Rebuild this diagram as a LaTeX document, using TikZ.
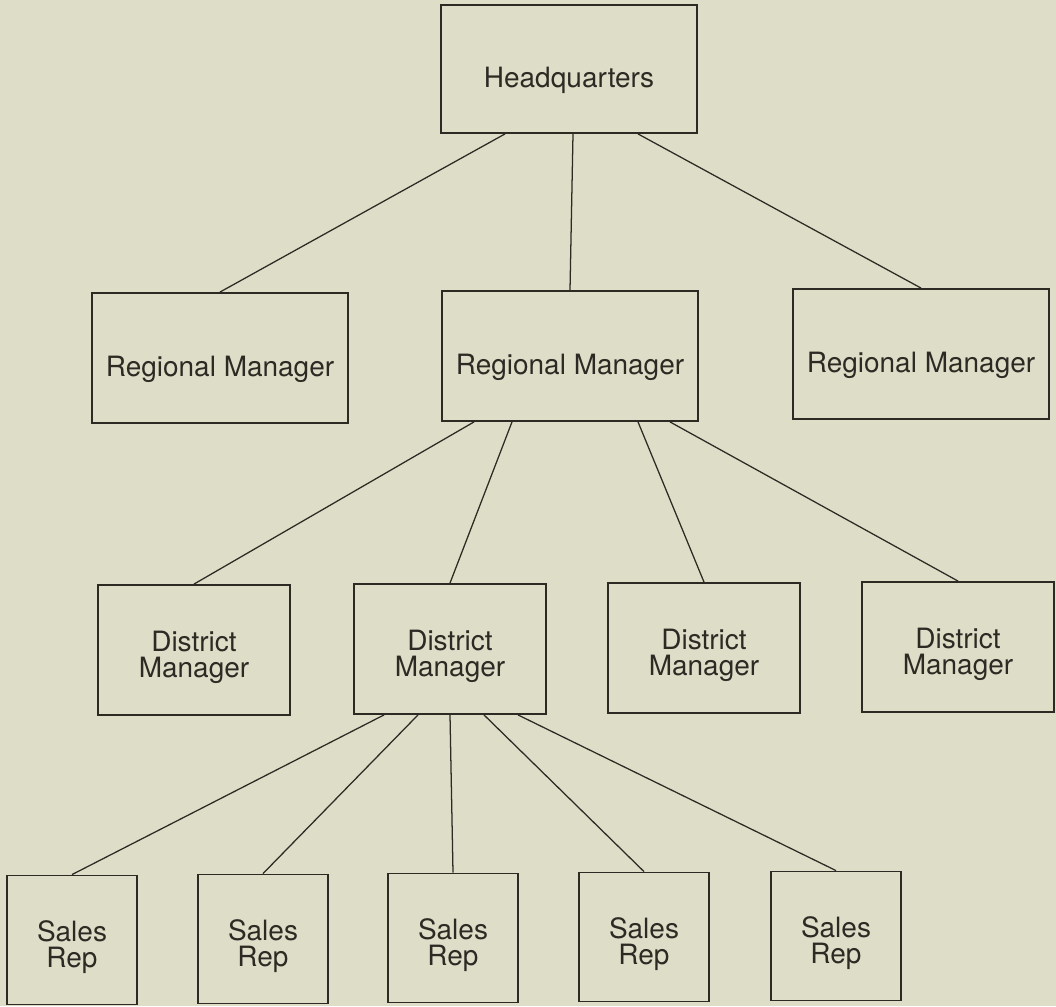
\documentclass[tikz,border=0pt]{standalone}
\usepackage{fontspec}
\setmainfont{TeX Gyre Heros}
\usetikzlibrary{positioning}
\definecolor{paper}{RGB}{221,221,200}
\definecolor{ink}{RGB}{45,42,36}

\begin{document}
\begin{tikzpicture}
  [
    x=0.025cm, y=-0.025cm,
    unit/.style    = {draw=ink, line width=1.3pt, text=ink, inner sep=0pt,
                      font=\fontsize{19.9}{17.8}\selectfont},
    onerow/.style  = {unit, text height=1.0cm, text depth=0.1cm},
    tworow/.style  = {unit, align=center, text height=1.45cm, text depth=0.1cm},
    hqbox/.style   = {onerow, minimum width=6.4cm, minimum height=3.2cm},
    regbox/.style  = {onerow, minimum width=6.4cm, minimum height=3.25cm},
    disbox/.style  = {tworow, minimum width=4.8cm, minimum height=3.25cm},
    repbox/.style  = {tworow, minimum width=3.25cm, minimum height=3.225cm},
    link/.style    = {draw=ink, line width=0.9pt},
  ]

%Paper and frame of the picture
\useasboundingbox[fill=paper] (0,0) rectangle (1056,1006);

%Top of the chart
\node[hqbox] (hq) at (569,69) {Headquarters};

%Regional level
\foreach [count=\i] \x/\y in {220/358, 570/356, 921/354}
{
\node[regbox] (r\i) at (\x,\y) {Regional Manager};
}

%District level
\foreach [count=\i] \x/\y in {194/650, 450/649, 704/648, 958/647}
{
\node[disbox] (d\i) at (\x,\y) {District\\Manager};
}

%Sales level
\foreach [count=\i] \x/\y in {72/940, 263/939, 453/938, 644/937, 836/936}
{
\node[repbox] (s\i) at (\x,\y) {Sales\\Rep};
}

%Connectors, spread along the bottom of each parent
\foreach [count=\i] \dx in {-1.6cm, 0.1cm, 1.725cm}
  \draw[link] ([xshift=\dx]hq.south) -- (r\i.north);
\foreach [count=\i] \dx in {-2.4cm, -1.45cm, 1.7cm, 2.5cm}
  \draw[link] ([xshift=\dx]r2.south) -- (d\i.north);
\foreach [count=\i] \dx in {-1.65cm, -0.8cm, 0cm, 0.85cm, 1.7cm}
  \draw[link] ([xshift=\dx]d2.south) -- (s\i.north);
\end{tikzpicture}
\end{document}
